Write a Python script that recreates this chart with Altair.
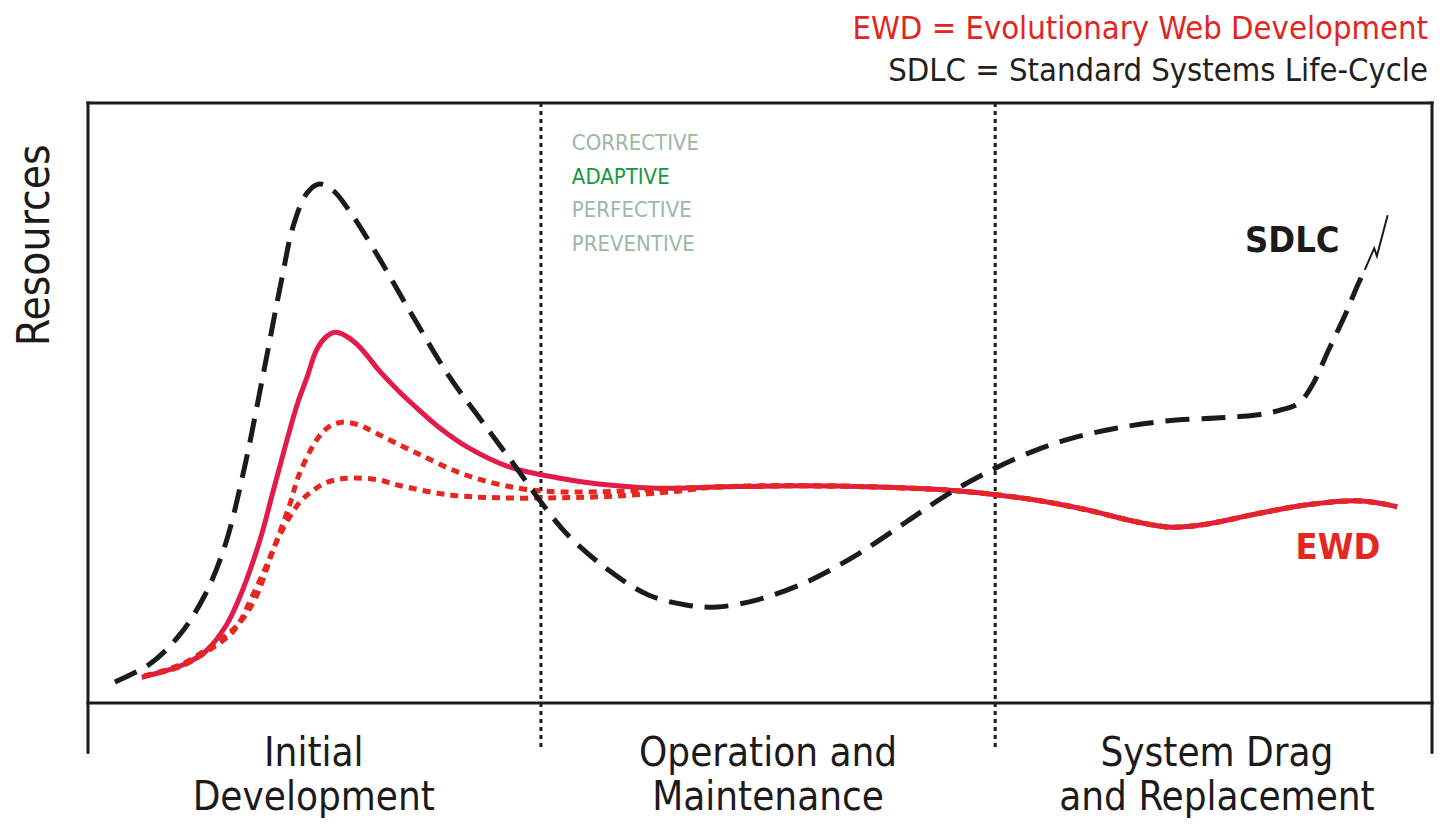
import altair as alt
import pandas as pd

# ---- data (time 0-100 across the life-cycle, resources 0-100) ----
sdlc_t = [2.0, 4.6, 6.8, 8.7, 10.2, 11.6, 13.1, 14.4, 15.3, 16.3, 17.2, 18.2, 19.4, 21.3, 23.9,
          26.8, 29.8, 32.0, 33.6, 35.7, 38.7, 41.7, 44.6, 46.8, 49.8, 53.5, 57.2, 60.9, 63.9,
          67.2, 70.6, 73.5, 76.5, 80.2, 83.9, 86.9, 88.7, 90.1, 91.1, 92.3, 93.6, 94.4, 95.0]
sdlc_r = [3.5, 6.5, 11.3, 18.0, 26.3, 38.8, 55.5, 70.5, 79.7, 85.0, 86.5, 85.5, 82.2, 75.5, 65.5,
          54.7, 45.5, 38.8, 33.8, 28.0, 22.2, 18.0, 16.3, 16.0, 17.2, 20.2, 24.7, 30.2, 34.7,
          38.8, 42.2, 44.3, 45.8, 47.0, 47.5, 48.0, 48.8, 50.0, 53.0, 58.8, 65.0, 69.3, 72.2]
break_t = [95.0, 95.7, 95.9, 96.7]
break_r = [72.2, 75.8, 74.5, 81.3]

ewd_t = [4.0, 5.7, 7.2, 8.7, 10.3, 11.5, 12.8, 13.8, 14.8, 15.6, 16.3, 17.0, 17.7, 18.4, 19.1,
         20.0, 20.8, 21.7, 23.2, 24.7, 26.2, 28.2, 31.4, 35.0, 38.0, 42.4, 46.8, 52.8, 58.7,
         63.9, 67.2, 70.6, 74.3, 78.0, 80.6, 83.2, 86.9, 90.6, 94.3, 96.1, 97.4]
ewd_r = [4.3, 5.3, 6.5, 8.5, 13.0, 18.8, 27.2, 35.5, 43.8, 50.0, 54.3, 58.8, 61.0, 61.8, 61.3,
         59.8, 57.8, 55.3, 51.8, 48.7, 45.8, 42.7, 39.3, 37.5, 36.5, 35.8, 36.0, 36.2, 36.0,
         35.5, 34.8, 33.8, 32.2, 30.2, 29.3, 29.8, 31.5, 33.0, 33.7, 33.3, 32.7]

ewd_hi_t = [4.2, 6.8, 9.0, 11.0, 12.4, 13.7, 15.0, 15.7, 17.0, 17.9, 18.9, 20.2, 21.4, 24.4,
            28.1, 32.0, 35.0, 39.4, 43.9]
ewd_hi_r = [4.5, 6.3, 9.2, 12.7, 17.2, 25.0, 33.0, 38.0, 43.8, 46.0, 46.8, 46.3, 45.0, 41.7,
            38.0, 35.8, 35.2, 35.3, 35.8]
ewd_lo_t = [4.2, 6.8, 9.0, 10.9, 12.2, 13.3, 14.2, 15.7, 16.8, 17.7, 18.7, 19.9, 21.6, 23.1,
            26.8, 30.5, 35.0, 39.4, 43.9]
ewd_lo_r = [4.5, 6.0, 8.8, 12.2, 17.7, 23.0, 27.7, 33.3, 35.5, 36.7, 37.3, 37.5, 37.2, 36.3,
            34.7, 34.2, 34.2, 34.5, 35.3]

phase_bounds = [33.7, 67.5]
phase_labels = ["Initial\nDevelopment", "Operation and\nMaintenance", "System Drag\nand Replacement"]
phase_centers = [16.8, 50.6, 84.0]
maint_types = ["CORRECTIVE", "ADAPTIVE", "PERFECTIVE", "PREVENTIVE"]
maint_colors = ["#9db8a4", "#16973f", "#9db8a4", "#9db8a4"]
title_lines = ["EWD = Evolutionary Web Development", "SDLC = Standard Systems Life-Cycle"]
title_colors = ["#e1251f", "#231f20"]

FONT = "Liberation Sans Narrow, DejaVu Sans Condensed, Arial Narrow, sans-serif"
RED_SOLID = "#e11b4b"
RED_DOT = "#e4281f"
INK = "#1c1a1b"
CURVE = "catmull-rom"

# merged tail: the dotted variants follow the solid EWD curve after they converge
tail_t = [t for t in ewd_t if t > 44.0]
tail_r = [r for t, r in zip(ewd_t, ewd_r) if t > 44.0]

sdlc = pd.DataFrame({"t": sdlc_t, "r": sdlc_r})
brk = pd.DataFrame({"t": break_t, "r": break_r})
ewd = pd.DataFrame({"t": ewd_t, "r": ewd_r})
hi = pd.DataFrame({"t": ewd_hi_t + tail_t, "r": ewd_hi_r + tail_r})
lo = pd.DataFrame({"t": ewd_lo_t + tail_t, "r": ewd_lo_r + tail_r})

X_SC = alt.Scale(domain=[0, 100], nice=False, zero=False)
Y_SC = alt.Scale(domain=[0, 100], nice=False, zero=False)
x = alt.X("t:Q", scale=X_SC, axis=None)
y = alt.Y("r:Q", scale=Y_SC, axis=None)

frame = pd.DataFrame({
    "t": [0, 0, 0, 100], "t2": [100, 100, 0, 100],
    "r": [100, 0, 100, 100], "r2": [100, 0, -8.2, -8.2],
})
frame_layer = alt.Chart(frame).mark_rule(color=INK, strokeWidth=3, strokeCap="square").encode(
    x=x, x2="t2:Q", y=y, y2="r2:Q")

div = pd.DataFrame({"t": phase_bounds, "r": [100] * len(phase_bounds), "r2": [-7.5] * len(phase_bounds)})
div_layer = alt.Chart(div).mark_rule(color=INK, strokeWidth=3, strokeDash=[4, 4]).encode(
    x=x, y=y, y2="r2:Q")

hi_layer = alt.Chart(hi).mark_line(color=RED_DOT, strokeWidth=5, strokeDash=[8, 6],
                                   interpolate=CURVE).encode(x=x, y=y)
lo_layer = alt.Chart(lo).mark_line(color=RED_DOT, strokeWidth=5, strokeDash=[8, 6],
                                   interpolate=CURVE).encode(x=x, y=y)
ewd_layer = alt.Chart(ewd).mark_line(color=RED_SOLID, strokeWidth=5,
                                     interpolate=CURVE).encode(x=x, y=y)
sdlc_layer = alt.Chart(sdlc).mark_line(color=INK, strokeWidth=5, strokeDash=[24, 12],
                                       interpolate=CURVE).encode(x=x, y=y)
brk_layer = alt.Chart(brk).mark_line(color=INK, strokeWidth=2).encode(x=x, y=y)

phase_df = pd.DataFrame({"t": phase_centers, "label": phase_labels,
                         "r": [-10.5] * len(phase_labels)})
phase_layer = alt.Chart(phase_df).mark_text(
    font=FONT, fontSize=40, color=INK, align="center", baseline="alphabetic",
    lineBreak="\n", lineHeight=44).encode(x=x, y=y, text="label:N")

maint_df = pd.DataFrame({"label": maint_types, "c": maint_colors,
                         "t": [36.0] * len(maint_types),
                         "r": [93.3 - 5.6 * i for i in range(len(maint_types))]})
maint_layer = alt.Chart(maint_df).mark_text(
    font=FONT, fontSize=22, align="left", baseline="middle").encode(
    x=x, y=y, text="label:N", color=alt.Color("c:N", scale=None))

title_df = pd.DataFrame({"label": title_lines, "c": title_colors,
                         "t": [99.7, 99.7], "r": [110.7, 103.7]})
title_layer = alt.Chart(title_df).mark_text(
    font=FONT, fontSize=32.5, align="right", baseline="alphabetic").encode(
    x=x, y=y, text="label:N", color=alt.Color("c:N", scale=None))

res_layer = alt.Chart(pd.DataFrame({"label": ["Resources"], "t": [-3.9], "r": [76.3]})).mark_text(
    font=FONT, fontSize=44, color=INK, angle=270, align="center", baseline="middle").encode(
    x=x, y=y, text="label:N")

sdlc_lbl = alt.Chart(pd.DataFrame({"label": ["SDLC"], "t": [89.6], "r": [77.0]})).mark_text(
    font=FONT, fontSize=36, fontWeight="bold", color=INK, align="center", baseline="middle").encode(
    x=x, y=y, text="label:N")
ewd_lbl = alt.Chart(pd.DataFrame({"label": ["EWD"], "t": [93.0], "r": [25.8]})).mark_text(
    font=FONT, fontSize=36, fontWeight="bold", color=RED_DOT, align="center", baseline="middle").encode(
    x=x, y=y, text="label:N")

chart = alt.layer(
    frame_layer, div_layer, ewd_layer, hi_layer, lo_layer, sdlc_layer, brk_layer,
    phase_layer, maint_layer, title_layer, res_layer, sdlc_lbl, ewd_lbl,
).properties(
    width=1344, height=600,
    padding={"left": 80, "top": 95, "right": 2, "bottom": 115},
    autosize=alt.AutoSizeParams(type="none"),
).configure_view(stroke=None)

chart.save("out.html", embed_options={"renderer": "svg", "actions": False})
